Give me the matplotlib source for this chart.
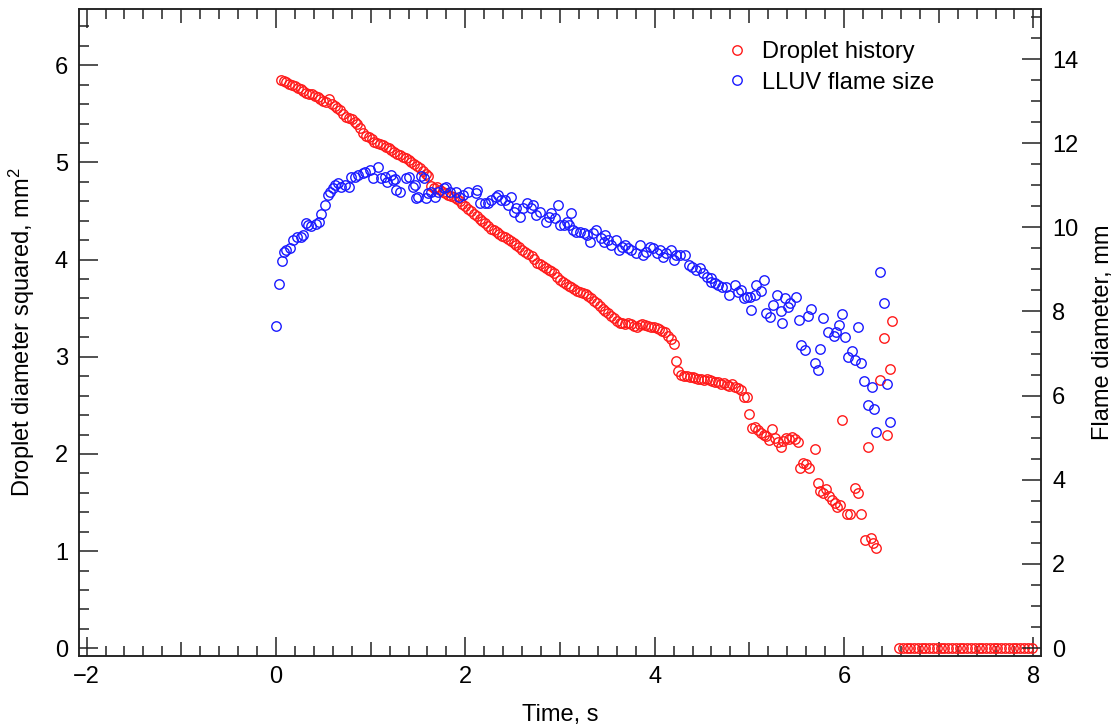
import matplotlib
matplotlib.use("Agg")
import matplotlib.pyplot as plt
from matplotlib.ticker import MultipleLocator

# ---- data -------------------------------------------------------------
# Droplet diameter squared (mm^2) versus time (s)
drop_t = [0.05, 0.08, 0.11, 0.14, 0.17, 0.20, 0.23, 0.26, 0.29, 0.32,
          0.35, 0.38, 0.41, 0.44, 0.47, 0.50, 0.53, 0.56, 0.59, 0.62,
          0.65, 0.68, 0.71, 0.74, 0.77, 0.80, 0.83, 0.86, 0.89, 0.92,
          0.95, 0.98, 1.01, 1.04, 1.07, 1.10, 1.13, 1.16, 1.19, 1.22,
          1.25, 1.28, 1.31, 1.34, 1.37, 1.40, 1.43, 1.46, 1.49, 1.52,
          1.55, 1.58, 1.61, 1.64, 1.67, 1.70, 1.73, 1.76, 1.79, 1.82,
          1.85, 1.88, 1.91, 1.94, 1.97, 2.00, 2.03, 2.06, 2.09, 2.12,
          2.15, 2.18, 2.21, 2.24, 2.27, 2.30, 2.33, 2.36, 2.39, 2.42,
          2.45, 2.48, 2.51, 2.54, 2.57, 2.60, 2.63, 2.66, 2.70, 2.73,
          2.76, 2.79, 2.82, 2.85, 2.88, 2.91, 2.94, 2.97, 3.00, 3.03,
          3.06, 3.09, 3.12, 3.15, 3.18, 3.21, 3.24, 3.27, 3.30, 3.33,
          3.36, 3.39, 3.42, 3.45, 3.48, 3.51, 3.54, 3.57, 3.60, 3.63,
          3.66, 3.69, 3.72, 3.75, 3.78, 3.81, 3.84, 3.87, 3.90, 3.93,
          3.96, 3.99, 4.02, 4.05, 4.08, 4.11, 4.14, 4.17, 4.20, 4.22,
          4.25, 4.28, 4.31, 4.34, 4.37, 4.40, 4.43, 4.46, 4.49, 4.52,
          4.55, 4.58, 4.61, 4.64, 4.67, 4.70, 4.73, 4.76, 4.79, 4.82,
          4.85, 4.88, 4.91, 4.94, 4.97, 5.00, 5.03, 5.06, 5.09, 5.12,
          5.15, 5.18, 5.21, 5.24, 5.27, 5.30, 5.33, 5.36, 5.39, 5.42,
          5.45, 5.48, 5.51, 5.54, 5.57, 5.60, 5.63, 5.69, 5.72, 5.75,
          5.78, 5.81, 5.84, 5.87, 5.90, 5.93, 5.96, 5.98, 6.03, 6.06,
          6.12, 6.15, 6.18, 6.22, 6.25, 6.28, 6.31, 6.34, 6.38, 6.42,
          6.45, 6.49, 6.51,
          6.58, 6.62, 6.66, 6.70, 6.74, 6.78, 6.82, 6.86, 6.90, 6.94,
          6.98, 7.02, 7.06, 7.10, 7.14, 7.18, 7.22, 7.26, 7.30, 7.34,
          7.38, 7.42, 7.46, 7.50, 7.54, 7.58, 7.62, 7.66, 7.70, 7.74,
          7.78, 7.82, 7.86, 7.90, 7.94, 7.98]
drop_d2 = [5.85, 5.84, 5.83, 5.81, 5.80, 5.79, 5.77, 5.76, 5.74, 5.72,
           5.71, 5.70, 5.68, 5.67, 5.65, 5.63, 5.62, 5.65, 5.60, 5.58,
           5.56, 5.54, 5.50, 5.47, 5.46, 5.45, 5.42, 5.40, 5.35, 5.30,
           5.27, 5.26, 5.24, 5.21, 5.20, 5.19, 5.18, 5.16, 5.15, 5.13,
           5.11, 5.09, 5.08, 5.06, 5.05, 5.03, 5.00, 4.98, 4.96, 4.94,
           4.91, 4.88, 4.86, 4.76, 4.74, 4.75, 4.72, 4.70, 4.69, 4.67,
           4.66, 4.64, 4.62, 4.60, 4.57, 4.55, 4.52, 4.50, 4.47, 4.45,
           4.42, 4.40, 4.38, 4.35, 4.32, 4.30, 4.28, 4.26, 4.24, 4.23,
           4.21, 4.19, 4.17, 4.15, 4.13, 4.10, 4.08, 4.06, 4.04, 4.01,
           3.97, 3.95, 3.93, 3.91, 3.89, 3.88, 3.86, 3.82, 3.79, 3.77,
           3.75, 3.73, 3.72, 3.70, 3.68, 3.67, 3.66, 3.65, 3.63, 3.60,
           3.57, 3.55, 3.52, 3.49, 3.47, 3.45, 3.42, 3.40, 3.37, 3.35,
           3.35, 3.34, 3.35, 3.34, 3.32, 3.31, 3.33, 3.34, 3.33, 3.32,
           3.31, 3.31, 3.30, 3.29, 3.27, 3.25, 3.21, 3.18, 3.13, 2.96,
           2.85, 2.81, 2.80, 2.80, 2.79, 2.79, 2.78, 2.77, 2.77, 2.76,
           2.77, 2.76, 2.75, 2.74, 2.74, 2.72, 2.73, 2.71, 2.70, 2.72,
           2.69, 2.68, 2.66, 2.59, 2.59, 2.41, 2.27, 2.28, 2.25, 2.22,
           2.20, 2.18, 2.14, 2.26, 2.16, 2.12, 2.07, 2.13, 2.16, 2.15,
           2.17, 2.15, 2.12, 1.86, 1.91, 1.90, 1.86, 2.05, 1.70, 1.62,
           1.60, 1.64, 1.57, 1.53, 1.49, 1.45, 1.47, 2.35, 1.38, 1.38,
           1.65, 1.60, 1.38, 1.11, 2.07, 1.13, 1.08, 1.03, 2.76, 3.19,
           2.19, 2.87, 3.37,
           0.0, 0.0, 0.0, 0.0, 0.0, 0.0, 0.0, 0.0, 0.0, 0.0,
           0.0, 0.0, 0.0, 0.0, 0.0, 0.0, 0.0, 0.0, 0.0, 0.0,
           0.0, 0.0, 0.0, 0.0, 0.0, 0.0, 0.0, 0.0, 0.0, 0.0,
           0.0, 0.0, 0.0, 0.0, 0.0, 0.0]

# LLUV flame diameter (mm) versus time (s)
flame_t = [0.00, 0.03, 0.06, 0.08, 0.11, 0.15, 0.18, 0.22, 0.26, 0.29,
           0.32, 0.34, 0.37, 0.42, 0.45, 0.48, 0.52, 0.55, 0.57, 0.60,
           0.62, 0.66, 0.69, 0.73, 0.77, 0.79, 0.84, 0.87, 0.92, 0.94,
           0.99, 1.03, 1.08, 1.11, 1.15, 1.17, 1.21, 1.24, 1.26, 1.27,
           1.31, 1.37, 1.40, 1.45, 1.47, 1.48, 1.50, 1.53, 1.56, 1.58,
           1.61, 1.64, 1.68, 1.71, 1.77, 1.80, 1.84, 1.90, 1.93, 1.98,
           2.03, 2.11, 2.12, 2.16, 2.21, 2.24, 2.27, 2.32, 2.35, 2.38,
           2.42, 2.45, 2.48, 2.51, 2.54, 2.58, 2.61, 2.65, 2.69, 2.72,
           2.75, 2.79, 2.85, 2.88, 2.91, 2.95, 2.98, 3.00, 3.04, 3.07,
           3.09, 3.12, 3.14, 3.17, 3.21, 3.25, 3.28, 3.32, 3.35, 3.38,
           3.43, 3.46, 3.48, 3.51, 3.54, 3.59, 3.62, 3.65, 3.69, 3.72,
           3.75, 3.80, 3.85, 3.88, 3.91, 3.95, 3.98, 4.02, 4.06, 4.09,
           4.12, 4.17, 4.20, 4.23, 4.27, 4.32, 4.36, 4.39, 4.44, 4.48,
           4.51, 4.55, 4.59, 4.60, 4.64, 4.67, 4.71, 4.75, 4.78, 4.85,
           4.88, 4.91, 4.94, 4.97, 5.01, 5.02, 5.06, 5.07, 5.12, 5.15,
           5.18, 5.22, 5.25, 5.29, 5.33, 5.34, 5.38, 5.41, 5.43, 5.49,
           5.52, 5.55, 5.59, 5.62, 5.65, 5.69, 5.72, 5.75, 5.78, 5.83,
           5.89, 5.92, 5.95, 5.98, 6.01, 6.04, 6.08, 6.12, 6.15, 6.18,
           6.21, 6.25, 6.29, 6.32, 6.34, 6.38, 6.42, 6.45, 6.49]
flame_d = [7.65, 8.65, 9.20, 9.41, 9.46, 9.51, 9.70, 9.77, 9.77, 9.82,
           10.10, 10.05, 10.03, 10.08, 10.13, 10.32, 10.53, 10.77, 10.84, 10.93,
           11.00, 11.05, 10.96, 11.00, 10.96, 11.20, 11.20, 11.24, 11.29, 11.31,
           11.36, 11.17, 11.43, 11.17, 11.20, 11.08, 11.24, 11.12, 11.15, 10.89,
           10.84, 11.17, 11.20, 10.96, 11.00, 10.70, 10.72, 11.22, 11.17, 10.70,
           10.82, 10.84, 10.72, 10.84, 10.93, 10.96, 10.84, 10.84, 10.72, 10.77,
           10.84, 10.82, 10.89, 10.58, 10.58, 10.58, 10.65, 10.72, 10.77, 10.65,
           10.65, 10.53, 10.72, 10.36, 10.46, 10.24, 10.46, 10.58, 10.46, 10.53,
           10.29, 10.36, 10.13, 10.24, 10.34, 10.22, 10.53, 10.05, 10.05, 10.13,
           10.05, 10.34, 9.94, 9.89, 9.89, 9.86, 9.82, 9.65, 9.86, 9.94,
           9.75, 9.65, 9.82, 9.70, 9.58, 9.70, 9.46, 9.53, 9.58, 9.51,
           9.46, 9.39, 9.58, 9.34, 9.41, 9.53, 9.51, 9.39, 9.46, 9.29,
           9.39, 9.46, 9.22, 9.34, 9.34, 9.34, 9.10, 9.06, 8.98, 9.03,
           8.91, 8.82, 8.79, 8.70, 8.68, 8.63, 8.58, 8.58, 8.39, 8.63,
           8.46, 8.51, 8.32, 8.34, 8.34, 8.03, 8.39, 8.63, 8.49, 8.75,
           7.96, 7.87, 8.15, 8.39, 8.01, 7.73, 8.32, 8.11, 8.20, 8.34,
           7.80, 7.20, 7.08, 7.89, 8.06, 6.77, 6.61, 7.11, 7.84, 7.51,
           7.42, 7.51, 7.68, 7.94, 7.39, 6.92, 7.06, 6.85, 7.63, 6.77,
           6.35, 5.78, 6.20, 5.68, 5.13, 8.94, 8.20, 6.27, 5.37]

labels = ["Droplet history", "LLUV flame size"]
x_label = "Time, s"
y_label_left = "Droplet diameter squared, mm$^2$"
y_label_right = "Flame diameter, mm"

# ---- style ------------------------------------------------------------
plt.rcParams["font.family"] = ["Liberation Sans", "DejaVu Sans"]
plt.rcParams["mathtext.fontset"] = "custom"
plt.rcParams["mathtext.rm"] = "Liberation Sans"
plt.rcParams["mathtext.default"] = "regular"
FS = 17
RED = "#ff1a1a"
BLUE = "#1a1aff"
MAJ_LEN, MID_LEN, MIN_LEN = 13.5, 10.0, 7.0

fig = plt.figure(figsize=(11.17, 7.26), dpi=100)
W, H = 1117, 726
ax = fig.add_axes([79 / W, 1 - 656 / H, (1041 - 79) / W, (656 - 9) / H])
ax2 = ax.twinx()

mk = dict(linestyle="none", marker="o", markersize=6.8,
          markerfacecolor="none", markeredgewidth=1.0)
h1, = ax.plot(drop_t, drop_d2, color=RED, **mk)
h2, = ax2.plot(flame_t, flame_d, color=BLUE, **mk)

ax.set_xlim(-2.08, 8.08)
ax.set_ylim(-0.08, 6.58)
ax2.set_ylim(-0.19, 15.19)

for a in (ax, ax2):
    for s in a.spines.values():
        s.set_linewidth(1.1)
        s.set_color("#222222")

# x axis: labelled every 2 s, medium ticks at odd seconds, minor every 0.2 s
ax.xaxis.set_major_locator(MultipleLocator(2))
ax.xaxis.set_minor_locator(MultipleLocator(0.2))
ax.tick_params(axis="x", which="both", direction="in", top=True, bottom=True,
               width=1.1, color="#222222", labelsize=FS, pad=7)
ax.tick_params(axis="x", which="major", length=MAJ_LEN)
ax.tick_params(axis="x", which="minor", length=MIN_LEN)

ax.yaxis.set_major_locator(MultipleLocator(1))
ax.yaxis.set_minor_locator(MultipleLocator(0.2))
ax.tick_params(axis="y", which="both", direction="in", left=True, right=False,
               width=1.1, color="#222222", labelsize=FS, pad=8)
ax.tick_params(axis="y", which="major", length=MAJ_LEN)
ax.tick_params(axis="y", which="minor", length=MIN_LEN)

ax2.yaxis.set_major_locator(MultipleLocator(2))
ax2.yaxis.set_minor_locator(MultipleLocator(0.5))
ax2.tick_params(axis="y", which="both", direction="in", right=True, left=False,
                width=1.1, color="#222222", labelsize=FS, pad=8)
ax2.tick_params(axis="y", which="major", length=MAJ_LEN)
ax2.tick_params(axis="y", which="minor", length=MIN_LEN)

# lengthen the minor ticks that fall on odd whole seconds
minor_locs = list(ax.xaxis.get_minorticklocs())
for loc, tk in zip(minor_locs, ax.xaxis.get_minor_ticks(len(minor_locs))):
    r = round(loc)
    if abs(loc - r) < 1e-6 and r % 2 != 0:
        tk.tick1line.set_markersize(MID_LEN)
        tk.tick2line.set_markersize(MID_LEN)

ax.set_xlabel(x_label, fontsize=FS, labelpad=12)
ax.set_ylabel(y_label_left, fontsize=FS, labelpad=13)
ax2.set_ylabel(y_label_right, fontsize=FS, labelpad=10)

ax.legend([h1, h2], labels, loc="upper left", bbox_to_anchor=(0.674, 0.95),
          frameon=False, fontsize=FS, handlelength=0.8, handletextpad=0.65,
          borderpad=0, borderaxespad=0, labelspacing=0.35)

fig.savefig("out.png", dpi=100)
